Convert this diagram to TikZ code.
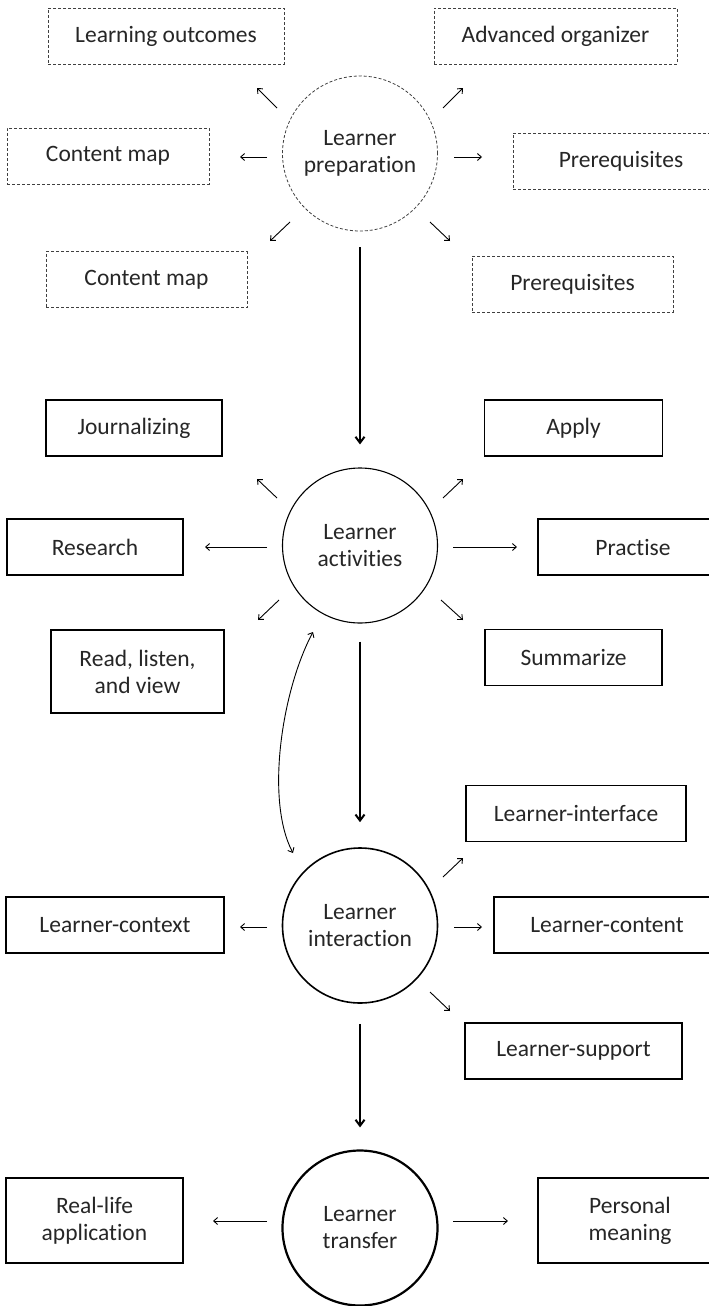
\documentclass[tikz,border=0pt]{standalone}
\usepackage{fontspec}
\setmainfont{Carlito}[Ligatures={TeX,NoCommon}]
\usepackage{xcolor}
\usepackage{tikz}
\usetikzlibrary{positioning,calc,arrows.meta,shapes.geometric}

\begin{document}
\begin{tikzpicture}[x=1pt,y=-1pt,
		font=\fontsize{23.5}{27}\selectfont, text=black!85,
		every node/.style={align=center, inner sep=0pt},
		hub/.style={circle, draw, minimum size=155pt},
		box/.style={rectangle, draw, minimum height=56pt},
		tall/.style={box, minimum height=84pt},
		dashbox/.style={draw=black!75, line width=0.8pt, dash pattern=on 3pt off 2pt},
		stub/.style={line width=0.9pt, -{Straight Barb[length=4pt,width=7pt]}},
		flow/.style={line width=2.2pt, -{Straight Barb[length=6pt,width=9pt,line width=2pt]}},
		twoway/.style={line width=0.9pt, {Straight Barb[length=4pt,width=7pt]}-{Straight Barb[length=4pt,width=7pt]}}]
			\useasboundingbox (0,0) rectangle (709,1306);
			
			% learner preparation
			\node[hub, dashbox] (prep) at (360,153.5) {Learner\\preparation};
			\node[box, dashbox, minimum width=236pt] (prepOut) at (166,36) {Learning outcomes};
			\node[box, dashbox, minimum width=243pt] (prepOrg) at (555.5,36) {Advanced organizer};
			\node[box, dashbox, minimum width=202pt] (prepMapA) at (108,156) {Content map};
			\node[box, dashbox, minimum width=216pt] (prepPreA) at (621,161) {Prerequisites};
			\node[box, dashbox, minimum width=201pt] (prepMapB) at (146.5,279.5) {Content map};
			\node[box, dashbox, minimum width=201pt] (prepPreB) at (572.5,284) {Prerequisites};
			
			% learner activities
			\node[hub, line width=1.1pt] (actv) at (360,545.5) {Learner\\activities};
			\begin{scope}[line width=1.1pt]
				\node[box, minimum width=176pt] (actJour) at (134,428) {Journalizing};
				\node[box, minimum width=178pt] (actApply) at (573.5,428) {Apply};
				\node[box, minimum width=176pt] (actRes) at (95,547) {Research};
				\node[box, minimum width=190pt] (actPrac) at (633,547) {Practise};
				\node[tall, minimum width=173pt, minimum height=83pt] (actRead) at (137.5,671.5) {Read, listen,\\and view};
				\node[box, minimum width=177pt] (actSum) at (573.5,657.5) {Summarize};
			\end{scope}
			
			% learner interaction
			\node[hub, line width=1.6pt] (intr) at (360,925.5) {Learner\\interaction};
			\begin{scope}[line width=1.6pt]
				\node[box, minimum width=220pt] (intFace) at (576,813.5) {Learner-interface};
				\node[box, minimum width=218pt] (intCtx) at (115,925) {Learner-context};
				\node[box, minimum width=226pt] (intCont) at (607,925) {Learner-content};
				\node[box, minimum width=217pt] (intSup) at (573.5,1051) {Learner-support};
			\end{scope}
			
			% learner transfer
			\node[hub, line width=2.2pt] (trns) at (360,1228) {Learner\\transfer};
			\begin{scope}[line width=2.2pt]
				\node[tall, minimum width=177pt, minimum height=85pt] (trnReal) at (94.5,1220.5) {Real-life\\application};
				\node[tall, minimum width=184pt, minimum height=85pt] (trnPers) at (630,1220.5) {Personal\\meaning};
			\end{scope}
			
			% short arrows round each hub
			\foreach \sx/\sy/\dx/\dy in {-83/-45.5/-20/-20, 83/-45.5/20/-20, -93/3.5/-27/0, 94/3.5/28/0, -70/68.5/-20/19, 70/68.5/20/19} {
				\draw[stub] ($(prep)+(\sx,\sy)$) -- ++(\dx,\dy);
			}
			\foreach \sx/\sy/\dx/\dy in {-83/-47.5/-20/-19, 83/-47.5/20/-19, -93/1.5/-62/0, 93/1.5/64/0, -81/54.5/-21/20, 81/54.5/22/20} {
				\draw[stub] ($(actv)+(\sx,\sy)$) -- ++(\dx,\dy);
			}
			\foreach \sx/\sy/\dx/\dy in {83/-48.5/20/-19, -93/1.5/-27/0, 94/1.5/28/0, 70/66.5/20/19} {
				\draw[stub] ($(intr)+(\sx,\sy)$) -- ++(\dx,\dy);
			}
			\foreach \sx/\sy/\dx/\dy in {-93/-7/-54/0, 93/-7/55/0} {
				\draw[stub] ($(trns)+(\sx,\sy)$) -- ++(\dx,\dy);
			}
			
			% main flow
			\draw[flow] ($(prep.south)+(0,16)$) -- ($(actv.north)+(0,-23)$);
			\draw[flow] ($(actv.south)+(0,18)$) -- ($(intr.north)+(0,-25)$);
			\draw[flow] ($(intr.south)+(0,20)$) -- ($(trns.north)+(0,-22)$);
			
			\draw[twoway] ($(actv)+(-47,86.5)$) .. controls ($(actv)+(-78,144.5)$) and ($(intr)+(-95,-125.5)$) .. ($(intr)+(-67,-72.5)$);
		\end{tikzpicture}
\end{document}
